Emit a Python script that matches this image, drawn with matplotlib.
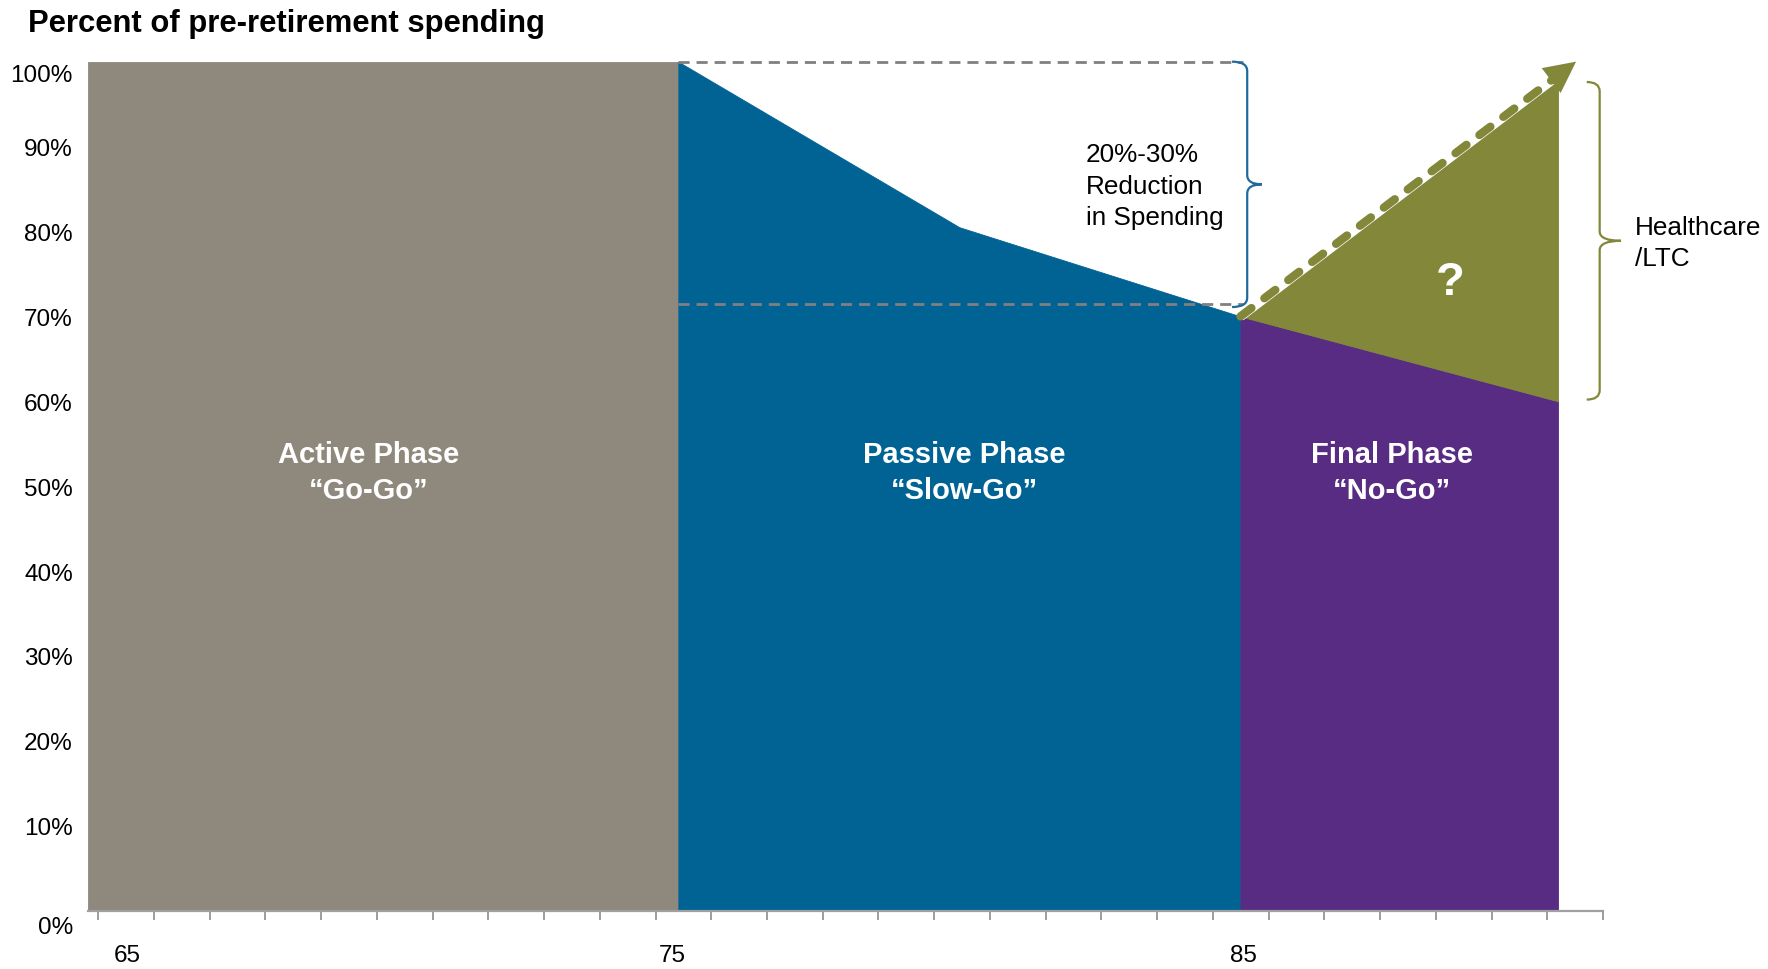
"""Retirement spending phases: share of pre-retirement spending by age."""

import numpy as np
import matplotlib
matplotlib.use('Agg')
import matplotlib.pyplot as plt
import matplotlib.transforms as mtransforms
from matplotlib.path import Path
from matplotlib.patches import PathPatch

plt.rcParams['font.family'] = ['Liberation Sans', 'DejaVu Sans']

# data
ages_active = [64.5, 75]
spend_active = [100, 100]
ages_passive = [75, 80, 85]
spend_passive = [100, 80.5, 70]
ages_final = [85, 90.65]
spend_final = [70, 60]
healthcare_top = [70, 98.3]
arrow_tip = (90.97, 100)
reduction_low = 71.5
reduction_end = 85.05

x_label_pos = [65.2, 74.9, 85.05]
x_labels = ['65', '75', '85']
y_ticks = list(range(0, 101, 10))
y_labels = [f'{v}%' for v in y_ticks]

phase_labels = ['Active Phase\n\u201cGo-Go\u201d',
                'Passive Phase\n\u201cSlow-Go\u201d',
                'Final Phase\n\u201cNo-Go\u201d']
phase_label_x = [69.49, 80.09, 87.69]

GREY = '#8F897D'
BLUE = '#006394'
PURPLE = '#582C82'
OLIVE = '#82873A'
DASH_GREY = '#808080'


def draw_brace(ax, x_hook, x_spine, x_tip, y_top, y_bot, color, r=1.1):
    """Draw a right-pointing curly brace between y_top and y_bot."""
    y_mid = (y_top + y_bot) / 2
    verts = [(x_hook, y_top), (x_spine, y_top), (x_spine, y_top - r),
             (x_spine, y_mid + r), (x_spine, y_mid), (x_tip, y_mid),
             (x_spine, y_mid), (x_spine, y_mid - r),
             (x_spine, y_bot + r), (x_spine, y_bot), (x_hook, y_bot)]
    codes = [Path.MOVETO, Path.CURVE3, Path.CURVE3, Path.LINETO,
             Path.CURVE3, Path.CURVE3, Path.CURVE3, Path.CURVE3,
             Path.LINETO, Path.CURVE3, Path.CURVE3]
    ax.add_patch(PathPatch(Path(verts, codes), facecolor='none',
                           edgecolor=color, lw=1.6, clip_on=False, zorder=5))


fig = plt.figure(figsize=(17.68, 9.70), dpi=100)
ax = fig.add_axes([0.0498, 0.0601, 0.8569, 0.8753])

ax.fill_between(ages_active, 0, spend_active, facecolor=GREY,
                edgecolor=GREY, lw=0.6, zorder=1)
ax.fill_between(ages_passive, 0, spend_passive, facecolor=BLUE,
                edgecolor=BLUE, lw=0.6, zorder=1)
ax.fill_between(ages_final, 0, spend_final, facecolor=PURPLE,
                edgecolor=PURPLE, lw=0.6, zorder=1)
ax.fill_between(ages_final, spend_final, healthcare_top, facecolor=OLIVE,
                edgecolor=OLIVE, lw=0.6, zorder=1)

# reduction band
dash = (0, (4, 2.5))
ax.plot([ages_passive[0], reduction_end], [spend_passive[0]] * 2,
        color=DASH_GREY, lw=2, linestyle=dash, zorder=3, clip_on=False)
ax.plot([ages_passive[0], reduction_end], [reduction_low] * 2,
        color=DASH_GREY, lw=2, linestyle=dash, zorder=3)

# healthcare arrow
x0, y0 = ages_final[0], spend_final[0]
xe = x0 + (arrow_tip[0] - x0) * 0.95
ye = y0 + (arrow_tip[1] - y0) * 0.95
ax.plot([x0, xe], [y0, ye], color='white', lw=7, zorder=3,
        solid_capstyle='butt')
ax.plot([x0, xe], [y0, ye], color=OLIVE, lw=6, linestyle=(0, (1.65, 1.95)),
        dash_capstyle='round', zorder=4)
ax.annotate('', xy=arrow_tip, xytext=(xe, ye),
            arrowprops=dict(arrowstyle='-|>,head_length=0.9,head_width=0.45',
                            color=OLIVE, lw=0, mutation_scale=25,
                            shrinkA=0, shrinkB=0),
            annotation_clip=False, zorder=4)

draw_brace(ax, 84.85, 85.12, 85.38, spend_passive[0], reduction_low - 0.4,
           '#1F6A9A')
draw_brace(ax, 91.16, 91.39, 91.77, 97.6, spend_final[1] + 0.2, OLIVE)

# labels
for xc, text in zip(phase_label_x, phase_labels):
    ax.text(xc, 51.7, text, color='white', fontsize=21, fontweight='bold',
            ha='center', va='center', linespacing=1.35, zorder=6)
ax.text(88.73, 74.0, '?', color='white', fontsize=34, fontweight='bold',
        ha='center', va='center', zorder=6)
ax.text(82.25, 85.4, '20%-30%\nReduction\nin Spending', fontsize=18.8,
        ha='left', va='center', linespacing=1.38, zorder=6)
ax.text(92.01, 78.7, 'Healthcare\n/LTC', fontsize=18.8, ha='left',
        va='center', linespacing=1.38, zorder=6)

fig.text(28 / 1768, 1 - 24 / 970, 'Percent of pre-retirement spending',
         fontsize=22.3, fontweight='bold', ha='left', va='center')

# axes
ax.set_xlim(ages_active[0], 91.45)
ax.set_ylim(0, 100)
for side in ['left', 'top', 'right']:
    ax.spines[side].set_visible(False)
ax.spines['bottom'].set_color('#A0A0A0')
ax.spines['bottom'].set_linewidth(1.6)
ax.spines['bottom'].set_zorder(7)

ax.set_xticks(x_label_pos, x_labels)
ax.set_xticks(np.linspace(64.68, 91.45, 28), minor=True)
ax.tick_params(axis='x', which='major', length=0, pad=24, labelsize=17.5)
ax.tick_params(axis='x', which='minor', length=6.5, width=1.2,
               color='#8C8C8C', direction='out')
ax.set_yticks(y_ticks, y_labels)
ax.tick_params(axis='y', length=0, pad=11, labelsize=17.5)

for lbl in ax.get_yticklabels():
    if lbl.get_text() == '0%':
        shift = mtransforms.ScaledTranslation(0, -9.7 / 72, fig.dpi_scale_trans)
        lbl.set_transform(lbl.get_transform() + shift)
    elif lbl.get_text() == '100%':
        shift = mtransforms.ScaledTranslation(0, -8 / 72, fig.dpi_scale_trans)
        lbl.set_transform(lbl.get_transform() + shift)

fig.savefig('out.png', dpi=100)
